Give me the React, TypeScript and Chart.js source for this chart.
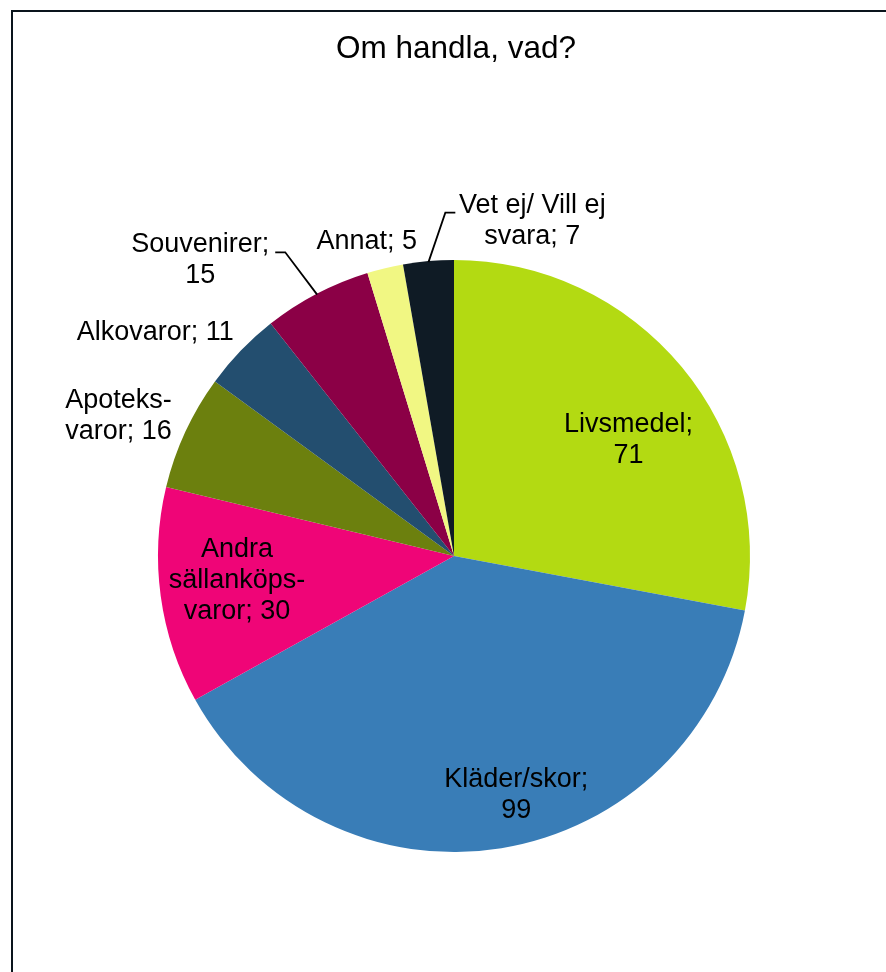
import React, { useEffect, useRef } from "react";
import { Chart, registerables } from "chart.js";

Chart.register(...registerables);

const TITLE = "Om handla, vad?";
const categories = [
  ["Livsmedel;", "71"],
  ["Kläder/skor;", "99"],
  ["Andra", "sällanköps-", "varor; 30"],
  ["Apoteks-", "varor; 16"],
  ["Alkovaror; 11"],
  ["Souvenirer;", "15"],
  ["Annat; 5"],
  ["Vet ej/ Vill ej", "svara; 7"],
];
const values = [71, 99, 30, 16, 11, 15, 5, 7];
const colors = [
  "#b3da12",
  "#397db7",
  "#ef0577",
  "#6c800e",
  "#234e6f",
  "#8b0046",
  "#f1f783",
  "#0f1b25",
];

// label placement (style only): radial factor of arc mid-angle + pixel tweak
const labelLayout = [
  { f: 0.7, dx: 15, dy: 16 },
  { f: 0.83, dx: 23, dy: -3 },
  { f: 0.73, dx: -3, dy: -5 },
  { f: 1.2, dx: -13, dy: 9 },
  { f: 1.2, dx: -43, dy: 23 },
  { f: 1.2, dx: -89, dy: 19 },
  { f: 1.12, dx: -10, dy: 8 },
  { f: 1.12, dx: 107, dy: -5 },
];
// leader lines: [elbow dx, end dx, dy] relative to label centre
const leaders: Record<number, number[]> = {
  5: [85, 75, -8],
  7: [-87, -77, -8],
};

const FONT = "'Liberation Sans', Arial, sans-serif";

const decor = {
  id: "decor",
  beforeDraw(chart: any) {
    const ctx = chart.ctx;
    ctx.save();
    ctx.fillStyle = "#ffffff";
    ctx.fillRect(0, 0, chart.width, chart.height);
    ctx.strokeStyle = "#0a141c";
    ctx.lineWidth = 2;
    ctx.strokeRect(12, 11, 1000, 1000);
    ctx.fillStyle = "#000";
    ctx.font = `31.5px ${FONT}`;
    ctx.textAlign = "center";
    ctx.textBaseline = "middle";
    ctx.fillText(TITLE, 456, 49);
    ctx.restore();
  },
  afterDatasetsDraw(chart: any) {
    const ctx = chart.ctx;
    const meta = chart.getDatasetMeta(0);
    ctx.save();
    ctx.font = `27px ${FONT}`;
    ctx.textAlign = "center";
    ctx.textBaseline = "middle";
    ctx.fillStyle = "#000";
    ctx.strokeStyle = "#000";
    ctx.lineWidth = 1.8;
    meta.data.forEach((arc: any, i: number) => {
      const p = arc.getProps(["x", "y", "startAngle", "endAngle", "outerRadius"], true);
      const mid = (p.startAngle + p.endAngle) / 2;
      const L = labelLayout[i];
      const cx = p.x + Math.cos(mid) * p.outerRadius * L.f + L.dx;
      const cy = p.y + Math.sin(mid) * p.outerRadius * L.f + L.dy;
      const lines = categories[i];
      const lh = 31;
      const y0 = cy - ((lines.length - 1) * lh) / 2;
      lines.forEach((t, k) => ctx.fillText(t, cx, y0 + k * lh));
      const ld = leaders[i];
      if (ld) {
        const ex = p.x + Math.cos(mid) * (p.outerRadius - 1);
        const ey = p.y + Math.sin(mid) * (p.outerRadius - 1);
        ctx.beginPath();
        ctx.moveTo(ex, ey);
        ctx.lineTo(cx + ld[0], cy + ld[2]);
        ctx.lineTo(cx + ld[1], cy + ld[2]);
        ctx.stroke();
      }
    });
    ctx.restore();
  },
};

export default function App() {
  const ref = useRef<HTMLCanvasElement>(null);
  useEffect(() => {
    if (!ref.current) return;
    const chart = new Chart(ref.current, {
      type: "pie",
      data: {
        labels: categories.map((c) => c.join(" ")),
        datasets: [
          {
            data: values,
            backgroundColor: colors,
            borderWidth: 0,
            hoverOffset: 0,
          },
        ],
      },
      options: {
        responsive: false,
        animation: false,
        layout: { padding: { left: 158, right: 136, top: 260, bottom: 120 } },
        plugins: {
          legend: { display: false },
          tooltip: { enabled: false },
          title: { display: false },
        },
      },
      plugins: [decor],
    });
    return () => chart.destroy();
  }, []);
  return (
    <div style={{ position: "fixed", left: 0, top: 0, width: 886, height: 972, overflow: "hidden", background: "#fff" }}>
      <canvas ref={ref} width={886} height={972} style={{ width: 886, height: 972, display: "block" }} />
    </div>
  );
}
